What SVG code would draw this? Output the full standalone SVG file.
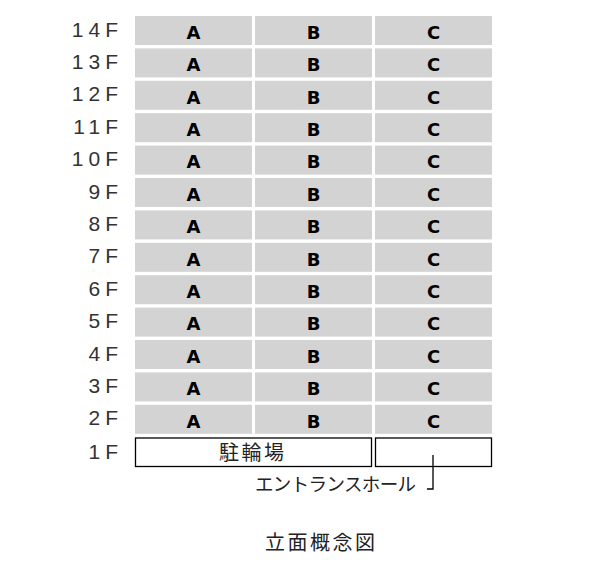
<svg xmlns="http://www.w3.org/2000/svg" width="600" height="568" viewBox="0 0 600 568">
<style>
.cell{fill:#d3d3d3}
.box{fill:#fff;stroke:#000;stroke-width:1.3}
.fl{font-family:"Liberation Sans",Arial,sans-serif;font-size:21px;fill:#333;text-anchor:end;letter-spacing:5px}
.u{font-family:"DejaVu Sans",sans-serif;font-size:18px;font-weight:bold;fill:#000;text-anchor:middle}
.jp{font-family:"Noto Sans CJK JP",sans-serif;fill:#222}
.ld{fill:none;stroke:#000;stroke-width:1.3}
</style>
<rect width="600" height="568" fill="#fff"/>
<g id="floor14"><text class="fl" x="123" y="36.5">14F</text><rect class="cell" x="135" y="16" width="117" height="29"/><text class="u" x="193.5" y="38.8">A</text><rect class="cell" x="255" y="16" width="117" height="29"/><text class="u" x="313.5" y="38.8">B</text><rect class="cell" x="375" y="16" width="117" height="29"/><text class="u" x="433.5" y="38.8">C</text></g>
<g id="floor13"><text class="fl" x="123" y="68.9">13F</text><rect class="cell" x="135" y="48.4" width="117" height="29"/><text class="u" x="193.5" y="71.2">A</text><rect class="cell" x="255" y="48.4" width="117" height="29"/><text class="u" x="313.5" y="71.2">B</text><rect class="cell" x="375" y="48.4" width="117" height="29"/><text class="u" x="433.5" y="71.2">C</text></g>
<g id="floor12"><text class="fl" x="123" y="101.3">12F</text><rect class="cell" x="135" y="80.8" width="117" height="29"/><text class="u" x="193.5" y="103.6">A</text><rect class="cell" x="255" y="80.8" width="117" height="29"/><text class="u" x="313.5" y="103.6">B</text><rect class="cell" x="375" y="80.8" width="117" height="29"/><text class="u" x="433.5" y="103.6">C</text></g>
<g id="floor11"><text class="fl" x="123" y="133.7">11F</text><rect class="cell" x="135" y="113.2" width="117" height="29"/><text class="u" x="193.5" y="136">A</text><rect class="cell" x="255" y="113.2" width="117" height="29"/><text class="u" x="313.5" y="136">B</text><rect class="cell" x="375" y="113.2" width="117" height="29"/><text class="u" x="433.5" y="136">C</text></g>
<g id="floor10"><text class="fl" x="123" y="166.1">10F</text><rect class="cell" x="135" y="145.6" width="117" height="29"/><text class="u" x="193.5" y="168.4">A</text><rect class="cell" x="255" y="145.6" width="117" height="29"/><text class="u" x="313.5" y="168.4">B</text><rect class="cell" x="375" y="145.6" width="117" height="29"/><text class="u" x="433.5" y="168.4">C</text></g>
<g id="floor9"><text class="fl" x="123" y="198.5">9F</text><rect class="cell" x="135" y="178" width="117" height="29"/><text class="u" x="193.5" y="200.8">A</text><rect class="cell" x="255" y="178" width="117" height="29"/><text class="u" x="313.5" y="200.8">B</text><rect class="cell" x="375" y="178" width="117" height="29"/><text class="u" x="433.5" y="200.8">C</text></g>
<g id="floor8"><text class="fl" x="123" y="230.9">8F</text><rect class="cell" x="135" y="210.4" width="117" height="29"/><text class="u" x="193.5" y="233.2">A</text><rect class="cell" x="255" y="210.4" width="117" height="29"/><text class="u" x="313.5" y="233.2">B</text><rect class="cell" x="375" y="210.4" width="117" height="29"/><text class="u" x="433.5" y="233.2">C</text></g>
<g id="floor7"><text class="fl" x="123" y="263.3">7F</text><rect class="cell" x="135" y="242.8" width="117" height="29"/><text class="u" x="193.5" y="265.6">A</text><rect class="cell" x="255" y="242.8" width="117" height="29"/><text class="u" x="313.5" y="265.6">B</text><rect class="cell" x="375" y="242.8" width="117" height="29"/><text class="u" x="433.5" y="265.6">C</text></g>
<g id="floor6"><text class="fl" x="123" y="295.7">6F</text><rect class="cell" x="135" y="275.2" width="117" height="29"/><text class="u" x="193.5" y="298">A</text><rect class="cell" x="255" y="275.2" width="117" height="29"/><text class="u" x="313.5" y="298">B</text><rect class="cell" x="375" y="275.2" width="117" height="29"/><text class="u" x="433.5" y="298">C</text></g>
<g id="floor5"><text class="fl" x="123" y="328.1">5F</text><rect class="cell" x="135" y="307.6" width="117" height="29"/><text class="u" x="193.5" y="330.4">A</text><rect class="cell" x="255" y="307.6" width="117" height="29"/><text class="u" x="313.5" y="330.4">B</text><rect class="cell" x="375" y="307.6" width="117" height="29"/><text class="u" x="433.5" y="330.4">C</text></g>
<g id="floor4"><text class="fl" x="123" y="360.5">4F</text><rect class="cell" x="135" y="340" width="117" height="29"/><text class="u" x="193.5" y="362.8">A</text><rect class="cell" x="255" y="340" width="117" height="29"/><text class="u" x="313.5" y="362.8">B</text><rect class="cell" x="375" y="340" width="117" height="29"/><text class="u" x="433.5" y="362.8">C</text></g>
<g id="floor3"><text class="fl" x="123" y="392.9">3F</text><rect class="cell" x="135" y="372.4" width="117" height="29"/><text class="u" x="193.5" y="395.2">A</text><rect class="cell" x="255" y="372.4" width="117" height="29"/><text class="u" x="313.5" y="395.2">B</text><rect class="cell" x="375" y="372.4" width="117" height="29"/><text class="u" x="433.5" y="395.2">C</text></g>
<g id="floor2"><text class="fl" x="123" y="425.3">2F</text><rect class="cell" x="135" y="404.8" width="117" height="29"/><text class="u" x="193.5" y="427.6">A</text><rect class="cell" x="255" y="404.8" width="117" height="29"/><text class="u" x="313.5" y="427.6">B</text><rect class="cell" x="375" y="404.8" width="117" height="29"/><text class="u" x="433.5" y="427.6">C</text></g>
<g id="floor1"><text class="fl" x="123" y="459.3">1F</text><rect class="box" x="135.5" y="438" width="236" height="28.5"/><text class="jp" x="219" y="460" font-size="20" textLength="65" lengthAdjust="spacing">駐輪場</text><rect class="box" x="375.5" y="438" width="116" height="28.5"/></g>
<g id="connectors"><polyline class="ld" points="433,455 433,489 427,489"/></g>
<g id="label-entrance"><text class="jp" x="255" y="491" font-size="18.5" textLength="161" lengthAdjust="spacing">エントランスホール</text></g>
<g id="title"><text class="jp" x="265" y="550" font-size="20" textLength="110" lengthAdjust="spacing">立面概念図</text></g>
</svg>
